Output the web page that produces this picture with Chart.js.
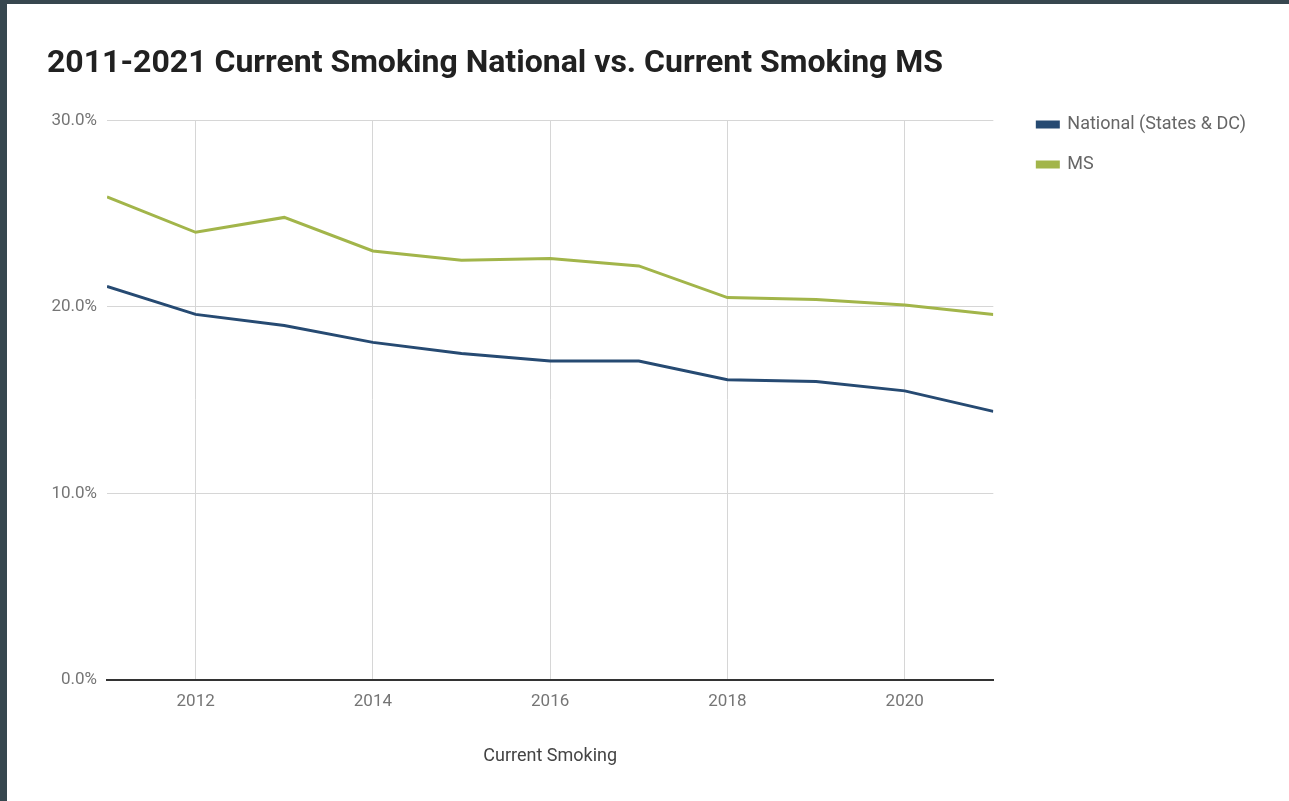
<!DOCTYPE html>
<html>
<head>
<meta charset="utf-8">
<script src="https://cdn.jsdelivr.net/npm/chart.js@4"></script>
<style>
  html, body { margin: 0; padding: 0; background: #37474f; overflow: hidden; }
  #frame { position: absolute; left: 7px; top: 4px; width: 1282px; height: 797px; background: #fff; }
</style>
</head>
<body>
<div id="frame"><canvas id="chart" width="1282" height="797"></canvas></div>
<script>
// dados
const years = [2011, 2012, 2013, 2014, 2015, 2016, 2017, 2018, 2019, 2020, 2021];
const national = [21.1, 19.6, 19.0, 18.1, 17.5, 17.1, 17.1, 16.1, 16.0, 15.5, 14.4];
const ms = [25.9, 24.0, 24.8, 23.0, 22.5, 22.6, 22.2, 20.5, 20.4, 20.1, 19.6];
const xTicks = [2012, 2014, 2016, 2018, 2020];
const yTicks = [0, 10, 20, 30];

const toPoints = values => values.map((v, i) => ({ x: years[i], y: v }));

// coloca a legenda ao lado do topo da área do gráfico
const legendShift = {
  id: "legendShift",
  afterLayout(chart) {
    const lg = chart.legend;
    if (!lg) return;
    const w = lg.width, h = lg.height;
    lg.left = chart.chartArea.right + 22;
    lg.right = lg.left + w;
    lg.top = chart.chartArea.top - 27;
    lg.bottom = lg.top + h;
  }
};

new Chart(document.getElementById("chart"), {
  type: "line",
  data: {
    datasets: [
      {
        label: "National (States & DC)",
        data: toPoints(national),
        borderColor: "#264a72",
        backgroundColor: "#264a72",
        borderWidth: 3,
        pointRadius: 0,
        tension: 0
      },
      {
        label: "MS",
        data: toPoints(ms),
        borderColor: "#a2b54a",
        backgroundColor: "#a2b54a",
        borderWidth: 3,
        pointRadius: 0,
        tension: 0
      }
    ]
  },
  options: {
    responsive: false,
    animation: false,
    layout: { padding: { left: 40, right: 55, top: 0, bottom: 34 } },
    plugins: {
      title: {
        display: true,
        text: "2011-2021 Current Smoking National vs. Current Smoking MS",
        align: "start",
        color: "#212121",
        font: { family: "Roboto", size: 32, weight: "bold" },
        padding: { top: 41, bottom: 37 }
      },
      legend: {
        position: "right",
        align: "start",
        labels: {
          boxWidth: 21,
          boxHeight: 5,
          padding: 22,
          color: "#666",
          font: { family: "Roboto", size: 18 }
        }
      },
      tooltip: { enabled: false }
    },
    scales: {
      x: {
        type: "linear",
        min: 2011,
        max: 2021,
        afterBuildTicks: scale => { scale.ticks = xTicks.map(v => ({ value: v })); },
        grid: { color: "#d6d6d6", drawTicks: false },
        border: { color: "#333", width: 2 },
        ticks: {
          padding: 12,
          color: "#757575",
          font: { family: "Roboto", size: 17 },
          callback: v => String(v)
        },
        title: {
          display: true,
          text: "Current Smoking",
          color: "#444",
          font: { family: "Roboto", size: 18 },
          padding: { top: 21, bottom: 0 }
        }
      },
      y: {
        min: 0,
        max: 30,
        afterBuildTicks: scale => { scale.ticks = yTicks.map(v => ({ value: v })); },
        afterFit: scale => { scale.width = 60; },
        grid: { color: "#d6d6d6", drawTicks: false },
        border: { display: false },
        ticks: {
          padding: 10,
          color: "#757575",
          font: { family: "Roboto", size: 17 },
          callback: v => v.toFixed(1) + "%"
        }
      }
    }
  },
  plugins: [legendShift]
});
</script>
</body>
</html>
